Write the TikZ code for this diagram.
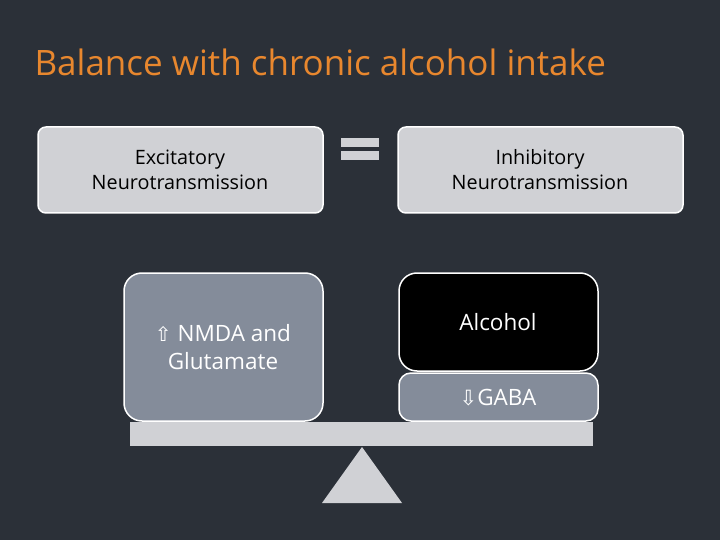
\documentclass[tikz,border=0pt]{standalone}
\usepackage{fontspec}
\setmainfont{Open Sans}
\newfontfamily\dejavu{DejaVu Sans}
\definecolor{bg}{HTML}{2B3038}
\definecolor{lg}{HTML}{D0D1D5}
\definecolor{mg}{HTML}{848C9A}
\definecolor{org}{HTML}{E8872E}
\tikzset{x=1pt,y=-1pt,
 box/.style={draw=white,line width=1.5pt,rounded corners=8pt},
 lbl/.style={align=center,font=\fontsize{19.8}{25}\selectfont},
 big/.style={align=center,text=white,font=\fontsize{22.5}{28}\selectfont}}
\begin{document}
\begin{tikzpicture}
\fill[bg] (0,0) rectangle (720,540);
\useasboundingbox (0,0) rectangle (720,540);
\node[anchor=west,text=org,font=\fontsize{35}{40}\selectfont] (title) at (31,62) {Balance with chronic alcohol intake};
\draw[box,fill=lg] (38,127) rectangle (323,213);
\node[lbl,text=black] (exc) at (180,170) {Excitatory\\Neurotransmission};
\draw[box,fill=lg] (398,127) rectangle (683,213);
\node[lbl,text=black] (inh) at (540,170) {Inhibitory\\Neurotransmission};
\fill[lg] (341,138) rectangle (379,147);
\fill[lg] (341,151) rectangle (379,160);
\node (eq) at (360,149) {};
\draw[box,fill=mg,rounded corners=18pt] (124,273) rectangle (323,421);
\node[big] (nmda) at (223,347) {{\dejavu\fontsize{20}{22}\selectfont ⇧} NMDA and\\Glutamate};
\draw[box,fill=black,rounded corners=18pt] (399,273) rectangle (598,371);
\node[big] (alc) at (498,322) {Alcohol};
\draw[box,fill=mg,rounded corners=12pt] (399,373) rectangle (598,421);
\node[big] (gaba) at (498,398) {{\dejavu\fontsize{21}{22}\selectfont ⇩}GABA};
\fill[lg] (130,422) rectangle (593,446);
\fill[lg] (362,447) -- (402,503) -- (322,503) -- cycle;
\end{tikzpicture}
\end{document}
